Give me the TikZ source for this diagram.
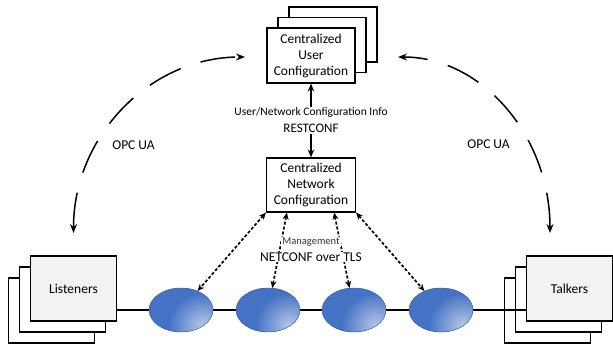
\documentclass[tikz,border=0pt]{standalone}
\usepackage{fontspec}
\setmainfont{Carlito}
\usetikzlibrary{arrows.meta,shapes.geometric,positioning}
\definecolor{ellblue}{HTML}{4472C4}
\definecolor{ellglow}{HTML}{B4C6E7}
\definecolor{boxgray}{HTML}{F2F2F2}
\pgfdeclareradialshading{gloss}{\pgfpoint{0bp}{0bp}}{color(0bp)=(ellglow); color(16bp)=(ellblue); color(50bp)=(ellblue)}
\tikzset{
  box/.style={draw, line width=1.2pt, fill=white, align=center, inner sep=1pt,
    minimum width=88pt, minimum height=55pt, font=\fontsize{13.5}{16}\selectfont},
  endbox/.style={box, minimum width=86pt, minimum height=65pt},
  bridge/.style={ellipse, minimum width=64pt, minimum height=44pt, fill=ellblue,
    draw=ellblue!80!black, line width=0.4pt,
    path picture={\shade[shading=gloss]
      ([xshift=-7pt,yshift=7pt]path picture bounding box.south east) circle (50bp);}},
  lbl/.style={font=\fontsize{13.5}{16}\selectfont, fill=white, inner sep=1pt},
  link/.style={{Stealth[length=8pt,width=6.5pt]}-{Stealth[length=8pt,width=6.5pt]}, line width=1.4pt},
  mgmtlink/.style={{Stealth[length=7pt,width=6pt]}-{Stealth[length=7pt,width=6pt]},
    line width=1.7pt, dash pattern=on 3pt off 2pt},
  opc/.style={{Stealth[length=9pt,width=7pt]}-{Stealth[length=9pt,width=7pt]},
    line width=1.5pt, dash pattern=on 35pt off 21pt},
  wire/.style={line width=1.2pt}
}
\begin{document}
\begin{tikzpicture}[x=1pt, y=-1pt]
  \useasboundingbox (0,0) rectangle (613,348);
  % user configuration, stacked
  \node[box] (userc) at (333,34.5) {};
  \node[box] (userb) at (322,45) {};
  \node[box] (user) at (311,55.5) {Centralized\\User\\Configuration};
  \node[box, minimum width=89pt, minimum height=54pt] (net) at (311,185)
    {Centralized\\Network\\Configuration};
  % listeners and talkers
  \node[endbox] (lisc) at (51.5,310.5) {};
  \node[endbox] (lisb) at (62.5,299.5) {};
  \node[endbox, fill=boxgray] (lis) at (73.5,288.5) {Listeners};
  \node[endbox] (talc) at (547.5,310.5) {};
  \node[endbox] (talb) at (558.5,299.5) {};
  \node[endbox, fill=boxgray] (tal) at (569.5,288.5) {Talkers};
  % bridges
  \node[bridge] (e1) at (181,310) {};
  \node[bridge] (e2) at (268,310) {};
  \node[bridge] (e3) at (354,310) {};
  \node[bridge] (e4) at (441,310) {};
  \draw[wire] (lis.east |- e1) -- (e1);
  \draw[wire] (e1) -- (e2);
  \draw[wire] (e2) -- (e3);
  \draw[wire] (e3) -- (e4);
  \draw[wire] (e4) -- (tal.west |- e4);
  % restconf
  \draw[link] (net) -- node[fill=white, align=center, inner sep=1pt,
    font=\fontsize{13}{17}\selectfont]
    {{\fontsize{11.5}{13}\selectfont User/Network Configuration Info}\\RESTCONF} (user);
  % netconf
  \draw[mgmtlink] (net.south west) -- (e1);
  \draw[mgmtlink] ([xshift=21pt]net.south west) -- (e2);
  \draw[mgmtlink] ([xshift=-22pt]net.south east) -- (e3);
  \draw[mgmtlink] (net.south east) -- (e4);
  \node[lbl, font=\fontsize{10.5}{12}\selectfont, text=black!80] (mgmt) at (311,242) {Management};
  \node[lbl] (netconf) at (311,257) {NETCONF over TLS};
  % opc ua
  \coordinate (opcLb) at (73.5,233);
  \coordinate (opcLt) at (245,57);
  \coordinate (opcRt) at (398,57);
  \coordinate (opcRb) at (550,233);
  \draw[opc] (opcLb) .. controls +(0,-97) and +(-95,0) .. (opcLt);
  \draw[opc] (opcRb) .. controls +(0,-97) and +(84,0) .. (opcRt);
  \node[lbl] (opcl) at (133.5,145) {OPC UA};
  \node[lbl] (opcr) at (488.5,144) {OPC UA};
\end{tikzpicture}
\end{document}
